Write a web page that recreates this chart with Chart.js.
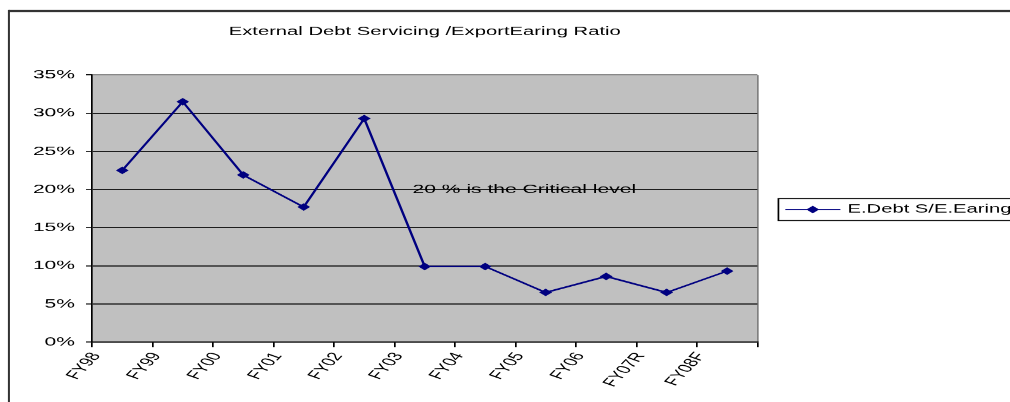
<!DOCTYPE html>
<html>
<head>
<meta charset="utf-8">
<title>External Debt Servicing / Export Earning Ratio</title>
<script src="https://cdn.jsdelivr.net/npm/chart.js@4/dist/chart.umd.min.js"></script>
<style>
  html, body { margin: 0; padding: 0; background: #fff; }
  /* the chart is laid out 600 units wide and stretched to the page width */
  #chart { display: block; width: 1010px !important; height: 402px !important; }
</style>
</head>
<body>
<canvas id="chart" width="600" height="402"></canvas>
<script>
const categories = ["FY98", "FY99", "FY00", "FY01", "FY02", "FY03", "FY04", "FY05", "FY06", "FY07R", "FY08F"]
const debtRatio = [22.5, 31.5, 21.9, 17.7, 29.3, 9.9, 9.9, 6.5, 8.6, 6.5, 9.3]
const seriesName = "E.Debt S/E.Earing"
const chartTitle = "External Debt Servicing /ExportEaring Ratio"
const yMin = 0
const yMax = 35
const yStep = 5
const criticalLevel = 20
const criticalNote = "20 % is the Critical level"

const FONT = '"Liberation Sans", Arial, sans-serif'
const STRETCH = 1010.5 / 600

// each point sits midway between two category ticks
const points = debtRatio.map((v, i) => ({ x: i + 0.5, y: v }))

const plotBackground = {
  id: "plotBackground",
  beforeDraw(chart) {
    const { ctx, chartArea: a } = chart
    ctx.save()
    ctx.fillStyle = "#c0c0c0"
    ctx.fillRect(a.left, a.top, a.right - a.left, a.bottom - a.top)
    // outer frame
    ctx.strokeStyle = "#333"
    ctx.lineWidth = 2
    ctx.beginPath()
    ctx.moveTo(5.3, 11)
    ctx.lineTo(chart.width + 5, 11)
    ctx.stroke()
    ctx.lineWidth = 1.2
    ctx.beginPath()
    ctx.moveTo(5.3, 10)
    ctx.lineTo(5.3, chart.height + 5)
    ctx.stroke()
    ctx.restore()
  }
}

const criticalLabel = {
  id: "criticalLabel",
  afterDraw(chart) {
    const { ctx, scales } = chart
    ctx.save()
    ctx.font = `12.5px ${FONT}`
    ctx.fillStyle = "#000"
    ctx.textAlign = "left"
    ctx.textBaseline = "middle"
    ctx.fillText(criticalNote, scales.x.getPixelForValue(5.3), scales.y.getPixelForValue(criticalLevel))
    ctx.restore()
  }
}

const boxedLegend = {
  id: "boxedLegend",
  afterDraw(chart) {
    const { ctx } = chart
    const ds = chart.data.datasets[0]
    const top = 198.5, h = 22, cy = top + h / 2
    ctx.save()
    ctx.strokeStyle = "#000"
    ctx.lineWidth = 1
    ctx.strokeRect(462.2, top, 200, h)
    ctx.strokeStyle = ds.borderColor
    ctx.lineWidth = 1
    ctx.beginPath()
    ctx.moveTo(466.3, cy)
    ctx.lineTo(499, cy)
    ctx.stroke()
    ctx.fillStyle = ds.pointBackgroundColor
    Chart.helpers.drawPoint(ctx, { pointStyle: ds.pointStyle, radius: ds.pointRadius, borderWidth: 0, rotation: 0 }, 482.6, cy)
    ctx.fillStyle = "#000"
    ctx.font = `12px ${FONT}`
    ctx.textBaseline = "middle"
    ctx.fillText(ds.label, 503.2, cy)
    ctx.restore()
  }
}

new Chart(document.getElementById("chart"), {
  type: "line",
  data: {
    datasets: [{
      label: seriesName,
      data: points,
      borderColor: "#000080",
      backgroundColor: "#000080",
      borderWidth: 1.5,
      tension: 0,
      pointStyle: "rectRot",
      pointRadius: 3.8,
      pointBorderWidth: 0,
      pointBackgroundColor: "#000080"
    }]
  },
  options: {
    responsive: false,
    animation: false,
    devicePixelRatio: STRETCH,
    layout: { padding: { left: 0, top: 0, right: 150.3, bottom: 0 } },
    plugins: {
      legend: { display: false },
      tooltip: { enabled: false },
      title: {
        display: true,
        text: chartTitle,
        fullSize: false,
        color: "#000",
        font: { family: FONT, size: 12, weight: "normal" },
        padding: { top: 24.5, bottom: 36.1 }
      }
    },
    scales: {
      x: {
        type: "linear",
        min: 0,
        max: categories.length,
        afterFit: (s) => { s.height = 60 },
        border: { color: "#000", width: 1 },
        grid: {
          drawOnChartArea: true,
          color: (c) => (c.tick && c.tick.value === categories.length ? "#808080" : "rgba(0,0,0,0)"),
          tickColor: "#000",
          tickLength: 5,
          lineWidth: 1
        },
        ticks: {
          stepSize: 1,
          autoSkip: false,
          minRotation: 59.3,
          maxRotation: 59.3,
          padding: 3,
          labelOffset: 2.5,
          color: "#000",
          font: { family: FONT, size: 12 },
          callback: (v) => categories[v] ?? ""
        }
      },
      y: {
        min: yMin,
        max: yMax,
        afterFit: (s) => { s.width = 54.65 },
        border: { color: "#000", width: 1 },
        grid: {
          color: (c) => (c.tick && c.tick.value === yMax ? "#808080" : "#000"),
          tickColor: "#000",
          tickLength: 3.6,
          lineWidth: 1
        },
        ticks: {
          stepSize: yStep,
          padding: 6.5,
          color: "#000",
          font: { family: FONT, size: 12.5 },
          callback: (v) => v + "%"
        }
      }
    }
  },
  plugins: [plotBackground, criticalLabel, boxedLegend]
})
</script>
</body>
</html>
